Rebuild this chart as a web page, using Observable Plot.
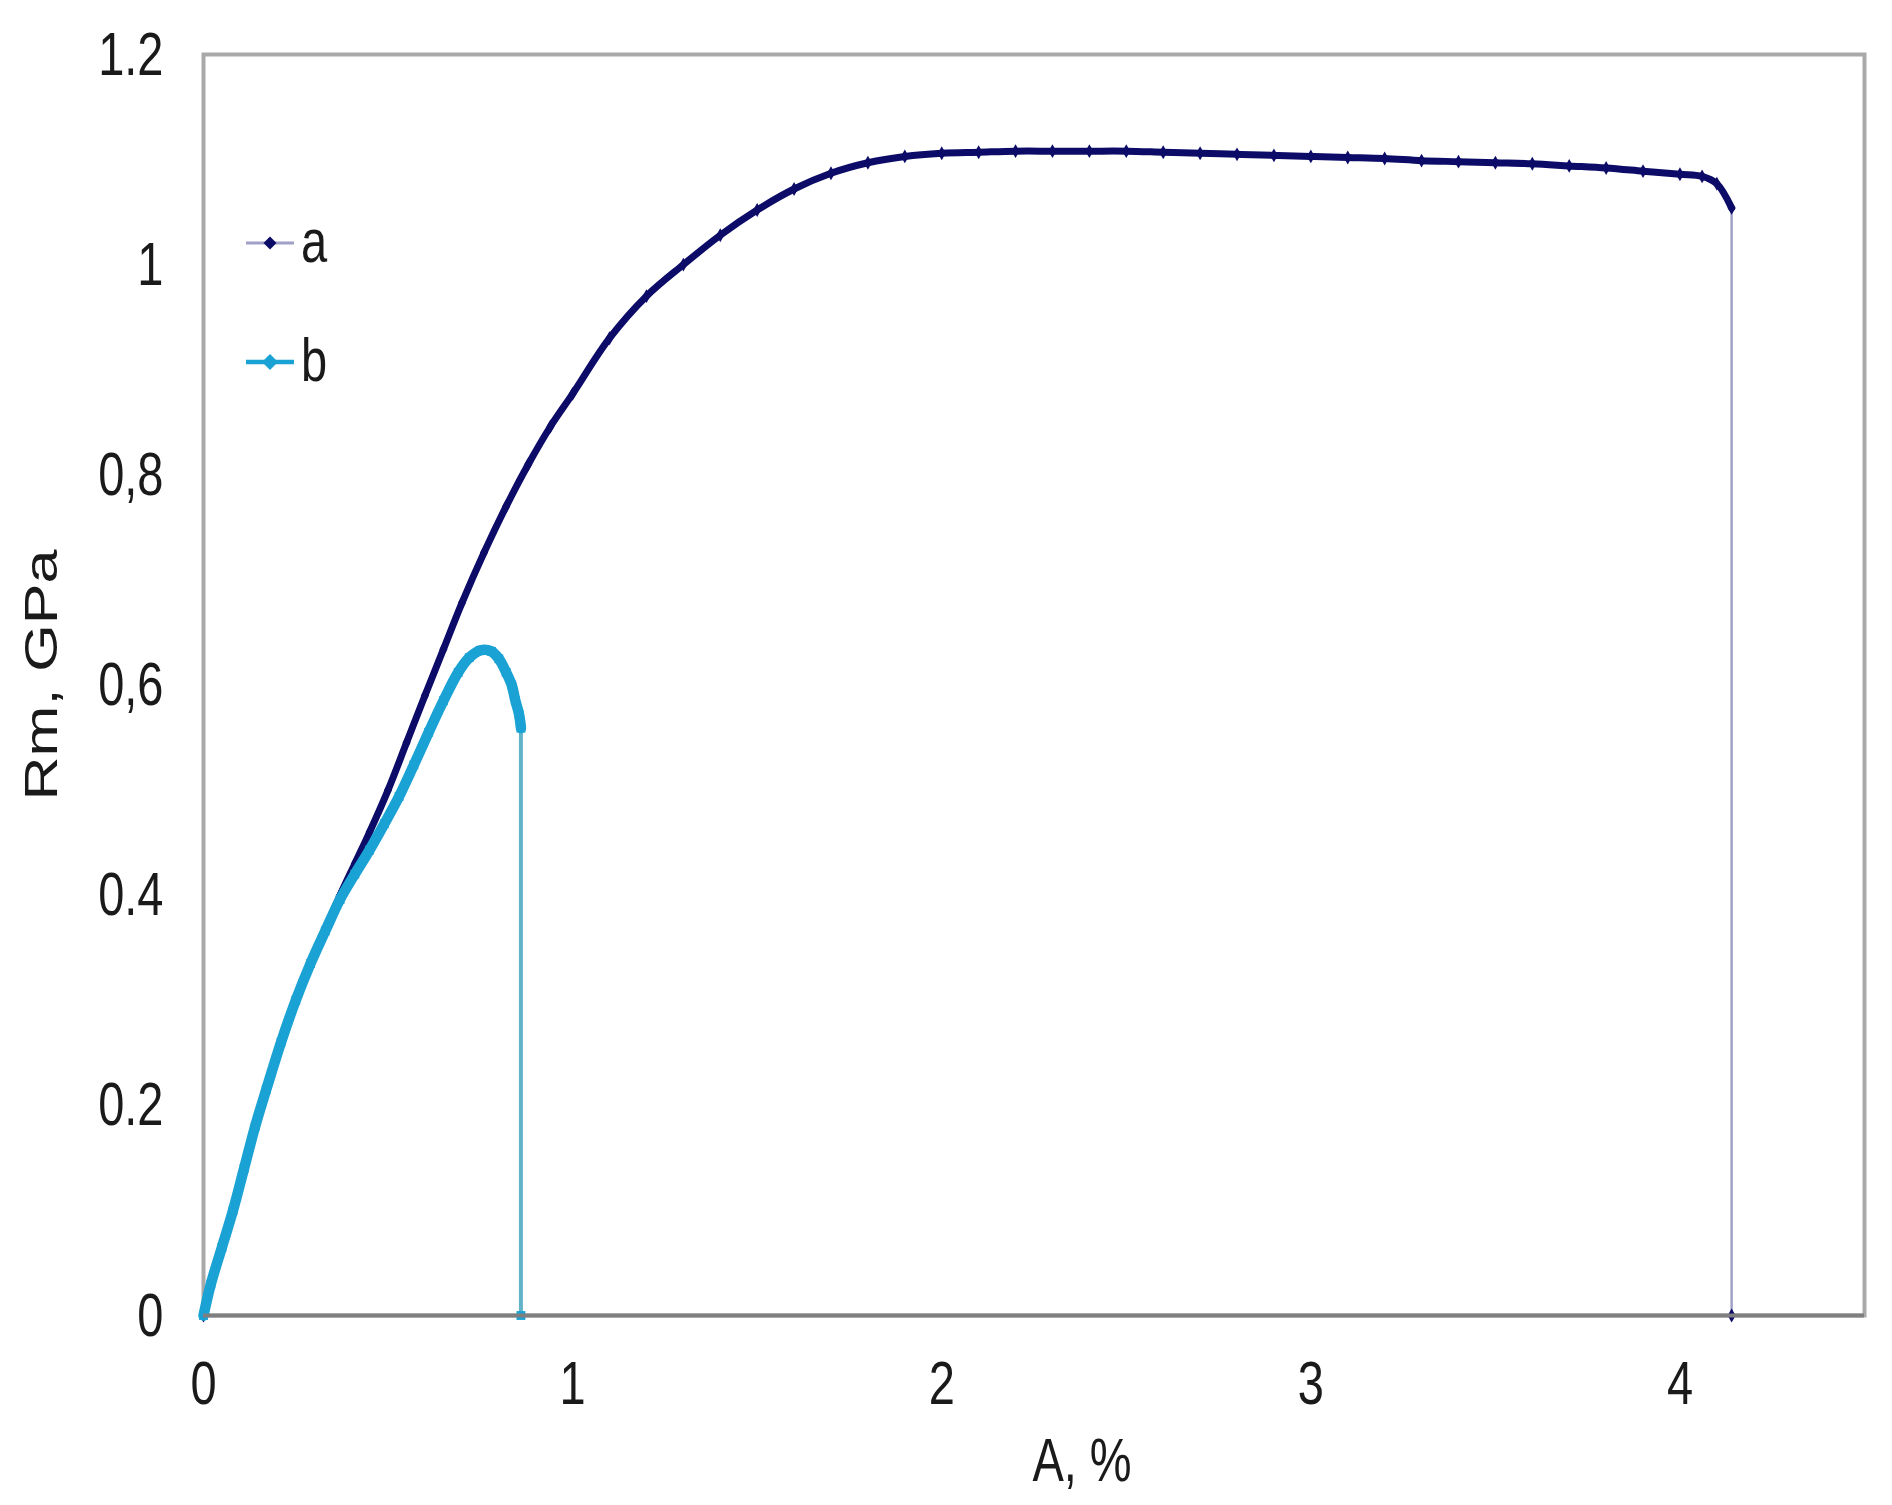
<!DOCTYPE html>
<html><head><meta charset="utf-8">
<script src="https://cdn.jsdelivr.net/npm/d3@7"></script>
<script src="https://cdn.jsdelivr.net/npm/@observablehq/plot@0.6"></script>
<style>
html,body{margin:0;padding:0;background:#fff;}
#chart{position:relative;width:1892px;height:1505px;}
#overlay{position:absolute;left:0;top:0;pointer-events:none;}
</style></head><body><div id="chart"></div>
<script>
// ---- data ----
const seriesNames = ["a", "b"];
const seriesColors = ["#0c0c68", "#1aa2d4"];
const dropColors = ["#a0a0c8", "#62b3c9"];

const aStrain = [0, 0.02, 0.05, 0.08, 0.11, 0.14, 0.17, 0.21, 0.25, 0.29, 0.33, 0.37, 0.41, 0.45, 0.50, 0.55, 0.60, 0.65, 0.70, 0.76, 0.82, 0.88, 0.94, 1.00, 1.10, 1.20, 1.30, 1.40, 1.50, 1.60, 1.70, 1.80, 1.90, 2.00, 2.10, 2.20, 2.30, 2.40, 2.50, 2.60, 2.70, 2.80, 2.90, 3.00, 3.10, 3.20, 3.30, 3.40, 3.50, 3.60, 3.70, 3.80, 3.90, 4.00, 4.06, 4.10, 4.14, 4.14];
const aStress = [0, 0.03, 0.065, 0.1, 0.14, 0.18, 0.215, 0.26, 0.3, 0.335, 0.368, 0.4, 0.43, 0.46, 0.5, 0.545, 0.59, 0.634, 0.678, 0.726, 0.77, 0.81, 0.846, 0.877, 0.93, 0.97, 1.0, 1.028, 1.052, 1.072, 1.087, 1.097, 1.103, 1.106, 1.107, 1.108, 1.108, 1.108, 1.108, 1.107, 1.106, 1.105, 1.104, 1.103, 1.102, 1.101, 1.099, 1.098, 1.097, 1.096, 1.094, 1.092, 1.089, 1.086, 1.084, 1.077, 1.054, 0];

const bStrain = [0, 0.02, 0.05, 0.08, 0.11, 0.14, 0.17, 0.21, 0.25, 0.29, 0.33, 0.37, 0.41, 0.45, 0.49, 0.53, 0.57, 0.61, 0.65, 0.69, 0.72, 0.75, 0.78, 0.80, 0.82, 0.835, 0.845, 0.855, 0.86, 0.86];
const bStress = [0, 0.03, 0.065, 0.1, 0.14, 0.18, 0.215, 0.26, 0.3, 0.335, 0.366, 0.396, 0.42, 0.443, 0.468, 0.494, 0.524, 0.555, 0.585, 0.612, 0.626, 0.633, 0.632, 0.625, 0.612, 0.60, 0.585, 0.572, 0.559, 0];

const xTicks = [0, 1, 2, 3, 4];
const yTicks = [0, 0.2, 0.4, 0.6, 0.8, 1, 1.2];
const yTickLabels = ["0", "0.2", "0.4", "0,6", "0,8", "1", "1.2"];
const xTitle = "A, %";
const yTitle = "Rm, GPa";

// ---- build ----
const STRETCH = 1.3;
const FONT = '"Liberation Sans", Arial, sans-serif';
const toRows = (xs, ys) => xs.map((x, i) => ({x, y: ys[i]}));
const a = toRows(aStrain, aStress);
const b = toRows(bStrain, bStress);
const aCurve = a.slice(0, -1), aDrop = a.slice(-2);
const bCurve = b.slice(0, -1), bDrop = b.slice(-2);

const svg = Plot.plot({
  width: 1892, height: 1505,
  marginLeft: 203, marginRight: 28, marginTop: 54, marginBottom: 190,
  style: {fontFamily: FONT, fontSize: "47px", color: "#1a1a1a", background: "#fff"},
  x: {domain: [0, 4.5], ticks: xTicks, tickFormat: d => String(d), tickSize: 0, tickPadding: 50, label: null},
  y: {domain: [0, 1.2], ticks: yTicks, tickFormat: d => yTickLabels[yTicks.indexOf(d)], tickSize: 0, tickPadding: 40, label: null},
  marks: [
    Plot.frame({stroke: "#a9a9a9", strokeWidth: 4}),
    Plot.line(aDrop, {x: "x", y: "y", stroke: dropColors[0], strokeWidth: 2.5}),
    Plot.line(aCurve, {x: "x", y: "y", stroke: seriesColors[0], strokeWidth: 7, curve: "catmull-rom"}),
    Plot.dot(a, {x: "x", y: "y", symbol: "diamond", r: 4.2, fill: seriesColors[0], stroke: "none"}),
    Plot.line(bDrop, {x: "x", y: "y", stroke: dropColors[1], strokeWidth: 4}),
    Plot.line(bCurve, {x: "x", y: "y", stroke: seriesColors[1], strokeWidth: 10.5, curve: "catmull-rom"}),
    Plot.dot(b, {x: "x", y: "y", symbol: "square", r: 5, fill: seriesColors[1], stroke: "none"}),
    Plot.ruleY([0], {stroke: "#7f7f7f", strokeWidth: 4})
  ]
});
const chart = document.getElementById("chart");
chart.appendChild(svg);

// stretch axis text vertically about its centre (reference text is tall)
svg.querySelectorAll("text").forEach(t => {
  const bb = t.getBBox();
  const cy = bb.y + bb.height / 2;
  const tr = t.getAttribute("transform") || "";
  t.setAttribute("transform", `${tr} translate(0,${cy}) scale(1,${STRETCH}) translate(0,${-cy})`);
});

// overlay: axis titles + legend
const ns = "http://www.w3.org/2000/svg";
const ov = document.createElementNS(ns, "svg");
ov.setAttribute("id", "overlay");
ov.setAttribute("width", 1892); ov.setAttribute("height", 1505);
ov.style.fontFamily = FONT; ov.style.fontSize = "47px";
function txt(s, tr, anchor) {
  const t = document.createElementNS(ns, "text");
  t.textContent = s; t.setAttribute("transform", tr);
  t.setAttribute("text-anchor", anchor); t.setAttribute("fill", "#1a1a1a");
  ov.appendChild(t); return t;
}
txt(xTitle, `translate(1082,1481) scale(1,${STRETCH})`, "middle");
txt(yTitle, `translate(57,675) rotate(-90) scale(${STRETCH},1)`, "middle");

const legendRows = [243, 362];
seriesNames.forEach((name, i) => {
  const y = legendRows[i];
  const l = document.createElementNS(ns, "line");
  l.setAttribute("x1", 246); l.setAttribute("x2", 294);
  l.setAttribute("y1", y); l.setAttribute("y2", y);
  l.setAttribute("stroke", i === 0 ? dropColors[0] : seriesColors[1]);
  l.setAttribute("stroke-width", i === 0 ? 3 : 4.5);
  ov.appendChild(l);
  const m = document.createElementNS(ns, "path");
  const s = i === 0 ? 6.5 : 8;
  m.setAttribute("d", `M${270},${y - s}L${270 + s},${y}L${270},${y + s}L${270 - s},${y}Z`);
  m.setAttribute("fill", seriesColors[i]);
  ov.appendChild(m);
  txt(name, `translate(301,${y + 19}) scale(1,${STRETCH})`, "start");
});
chart.appendChild(ov);
</script></body></html>
